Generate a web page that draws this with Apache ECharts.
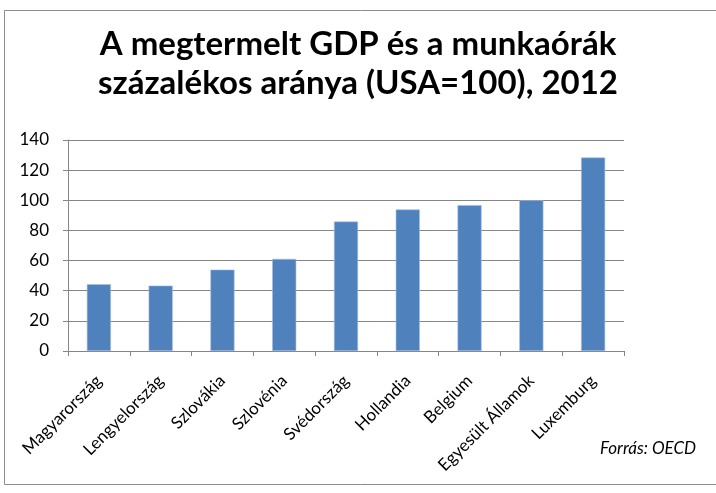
<!DOCTYPE html>
<html>
<head>
<meta charset="utf-8">
<script src="https://cdn.jsdelivr.net/npm/echarts@6/dist/echarts.min.js"></script>
<style>html,body{margin:0;padding:0;background:#fff}#c{width:716px;height:493px}</style>
</head>
<body>
<div id="c"></div>
<script>
const categories = ['Magyarország','Lengyelország','Szlovákia','Szlovénia','Svédország','Hollandia','Belgium','Egyesült Államok','Luxemburg'];
const values = [44.3, 43.4, 54.0, 61.1, 85.9, 93.9, 96.8, 100.0, 128.4];
const titleText = 'A megtermelt GDP és a munkaórák\nszázalékos aránya (USA=100), 2012';
const sourceText = 'Forrás: OECD';

const chart = echarts.init(document.getElementById('c'), null, {renderer: 'canvas'});
const font = 'Lato, Liberation Sans, Arial, sans-serif';
chart.setOption({
  animation: false,
  title: {
    text: titleText,
    left: 'center',
    top: 20,
    textStyle: {fontFamily: font, fontSize: 33, fontWeight: 'bold', color: '#000', lineHeight: 39}
  },
  graphic: [
    {type: 'rect', shape: {x: 4.5, y: 10.5, width: 730, height: 474}, style: {fill: null, stroke: '#8c8c8c', lineWidth: 1}, silent: true},
    {type: 'text', left: 600, top: 440, style: {text: sourceText, fontFamily: font, fontStyle: 'italic', fontSize: 17, fill: '#000'}}
  ],
  grid: {left: 68, right: 92, top: 140, bottom: 142, containLabel: false},
  xAxis: {
    type: 'category',
    data: categories,
    axisLine: {lineStyle: {color: '#868686', width: 1}},
    axisTick: {show: true, length: 5, lineStyle: {color: '#868686'}},
    axisLabel: {rotate: 45, interval: 0, fontFamily: font, fontSize: 17, color: '#000', margin: 27}
  },
  yAxis: {
    type: 'value',
    min: 0, max: 140, interval: 20,
    axisLine: {show: true, lineStyle: {color: '#868686'}},
    axisTick: {show: true, length: 5, lineStyle: {color: '#868686'}},
    splitLine: {lineStyle: {color: '#868686', width: 1}},
    axisLabel: {fontFamily: font, fontSize: 17, color: '#000', margin: 19}
  },
  series: [{
    type: 'bar',
    data: values,
    barWidth: '39%',
    itemStyle: {color: '#4F81BD', borderColor: '#A7BFDE', borderWidth: 0.6}
  }]
});
</script>
</body>
</html>
